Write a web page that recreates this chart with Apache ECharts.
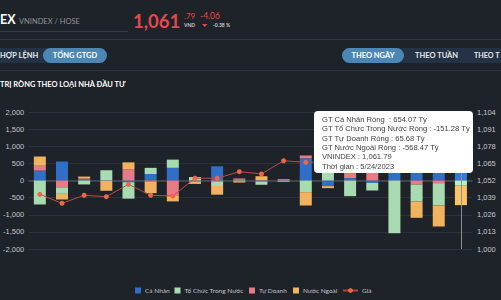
<!DOCTYPE html>
<html><head><meta charset="utf-8">
<script src="https://cdn.jsdelivr.net/npm/echarts@6/dist/echarts.min.js"></script>
<style>
html,body{margin:0;padding:0;background:#1e2229;width:501px;height:300px;overflow:hidden;}
#chart{position:absolute;left:0;top:0;width:501px;height:300px;}
</style></head><body>
<div id="chart"></div>
<script>
// ---- data ----
const dates = ['4/24/2023','4/25/2023','4/26/2023','4/27/2023','4/28/2023','5/4/2023','5/5/2023','5/8/2023','5/9/2023','5/10/2023','5/11/2023','5/12/2023','5/15/2023','5/16/2023','5/17/2023','5/18/2023','5/19/2023','5/22/2023','5/23/2023','5/24/2023'];
const caNhan    = [290, 555, 30, -10, -50, 190, 370, -20, 415, 20, -30, -15, 650, -165, 70, -68, 1000, 1089, 1343, 654.07];
const toChuc    = [-700, -190, -115, 300, -480, 180, 240, 100, -130, -25, -95, -20, -340, 223, -457, -224, -1539, -496, -652, -151.28];
const tuDoanh   = [140, -200, 30, -5, 330, -40, -430, -20, -30, 40, 15, 10, 80, 0, 130, 240, 150, -117, -78, 65.68];
const nuocNgoai = [270, -165, 55, -285, 200, -330, -180, -60, -255, -35, 110, 25, -390, -58, 257, 52, 389, -476, -613, -568.47];
const vnindex   = [1041.5, 1034.7, 1040.8, 1039.7, 1049.1, 1040.8, 1040.2, 1053.7, 1053.7, 1058.7, 1057.0, 1067.0, 1065.8, 1066.3, 1063.5, 1069.4, 1067.5, 1075.0, 1065.85, 1061.79];
const leftTicks  = {min: -2000, max: 2000, interval: 500};
const rightTicks = [1000, 1013, 1026, 1039, 1052, 1065, 1078, 1091, 1104];
const names = {cn: 'Cá Nhân', tc: 'Tổ Chức Trong Nước', td: 'Tự Doanh', nn: 'Nước Ngoài', gia: 'Giá'};
const colors = {cn: '#2f6fc8', tc: '#a8dbb0', td: '#e97b87', nn: '#f0b35f', line: '#a9473d', dot: '#ee6548'};

const fmt = v => v.toLocaleString('en-US');
const red = '#e5484d';
const F = 'Lato, "Open Sans", sans-serif';
function txt(x, y, text, size, color, weight, align) {
  return {type: 'text', silent: true, style: {x: x, y: y, text: text, fontSize: size, fontWeight: weight || 'normal', fontFamily: F, fill: color, align: align || 'left', verticalAlign: 'middle'}};
}
function rect(x, y, w, h, color, r) {
  return {type: 'rect', silent: true, shape: {x: x, y: y, width: w, height: h, r: r || 0}, style: {fill: color}};
}
function leg(name, left, w) {
  return {data: [name], left: left, top: 282, itemWidth: w, itemHeight: 6, icon: w > 10 ? undefined : 'rect',
          textStyle: {color: '#c0c4ca', fontSize: 6.5, fontFamily: F, padding: [0, 0, 0, -1]}};
}

const chart = echarts.init(document.getElementById('chart'), null, {renderer: 'svg'});
chart.setOption({
  animation: false,
  backgroundColor: 'transparent',
  textStyle: {fontFamily: '"Liberation Sans", Arial, sans-serif'},
  graphic: [
    txt(0, 19.5, 'EX', 12.5, '#ffffff', 'bold'),
    txt(19, 21.2, 'VNINDEX / HOSE', 7.5, '#8f959d'),
    rect(0, 31, 128, 1, '#363b44'),
    txt(133, 21.2, '1,061', 18.5, red, 'bold'),
    txt(184, 15.5, '.79', 8, red),
    txt(184, 25, 'VND', 5, '#c8ccd2', 'bold'),
    txt(200, 16, '-4.06', 8.5, red),
    {type: 'polygon', silent: true, shape: {points: [[202, 24], [207.5, 24], [204.75, 27]]}, style: {fill: red}},
    txt(213, 25, '-0.38 %', 5, '#c8ccd2', 'bold'),
    rect(0, 39, 501, 1, '#353a43'),
    rect(-10, 48, 117, 15, '#233244', 7.5),
    rect(43, 48, 64, 15, '#4b87b2', 7.5),
    txt(0, 55.5, 'HỢP LỆNH', 7.5, '#e6e9ed', 'bold'),
    txt(75, 55.5, 'TỔNG GTGD', 7.5, '#ffffff', 'bold', 'center'),
    rect(342, 48, 170, 15, '#233244', 7.5),
    rect(342, 48, 62, 15, '#4b87b2', 7.5),
    txt(373, 55.5, 'THEO NGÀY', 7.5, '#ffffff', 'bold', 'center'),
    txt(415, 55.5, 'THEO TUẦN', 7.5, '#e6e9ed', 'bold'),
    txt(474, 55.5, 'THEO T', 7.2, '#e6e9ed', 'bold'),
    rect(0, 70, 501, 1, '#30353d'),
    txt(0, 84.5, 'TRỊ RÒNG THEO LOẠI NHÀ ĐẦU TƯ', 7.5, '#ffffff', 'bold')
  ],
  grid: {left: 22, right: 29, top: 112, bottom: 51},
  legend: [
    leg(names.cn, 130, 6),
    leg(names.tc, 169.5, 6),
    leg(names.td, 244, 6),
    leg(names.nn, 288, 6),
    leg(names.gia, 337, 15)
  ],
  tooltip: {
    trigger: 'axis', triggerOn: 'none', alwaysShowContent: true, transitionDuration: 0, showDelay: 0,
    position: [314, 111],
    backgroundColor: '#ffffff', borderWidth: 0, padding: [4, 0, 2, 8],
    extraCssText: 'width:159px;height:62px;box-sizing:border-box;border-radius:4px;box-shadow:none;',
    textStyle: {color: '#444', fontSize: 7.6, fontFamily: '"Liberation Sans", Arial, sans-serif'},
    axisPointer: {type: 'line', lineStyle: {color: '#8a8f96', width: 1, type: 'solid'}},
    formatter: function (params) {
      const i = params[0].dataIndex;
      const lines = [
        'GT ' + names.cn + ' Ròng&nbsp;&nbsp;: ' + caNhan[i].toFixed(2) + ' Tỷ',
        'GT ' + names.tc + ' Ròng : ' + toChuc[i].toFixed(2) + ' Tỷ',
        'GT ' + names.td + ' Ròng : ' + tuDoanh[i].toFixed(2) + ' Tỷ',
        'GT ' + names.nn + ' Ròng : ' + nuocNgoai[i].toFixed(2) + ' Tỷ',
        'VNINDEX : ' + vnindex[i].toLocaleString('en-US', {minimumFractionDigits: 2, maximumFractionDigits: 2}),
        'Thời gian : ' + dates[i]
      ];
      return '<div style="line-height:9.33px;white-space:nowrap">' + lines.join('<br/>') + '</div>';
    }
  },
  xAxis: {
    type: 'category', data: dates, boundaryGap: true,
    axisLabel: {show: false}, axisTick: {show: false},
    axisLine: {lineStyle: {color: '#4a4f57', width: 1.5}}
  },
  yAxis: [
    {type: 'value', min: leftTicks.min, max: leftTicks.max, interval: leftTicks.interval,
     axisLabel: {color: '#c4c8ce', fontSize: 7.5, margin: 4.5, formatter: fmt},
     axisLine: {show: false}, axisTick: {show: false},
     splitLine: {lineStyle: {color: '#2c313a', width: 1}}},
    {type: 'value', min: rightTicks[0], max: rightTicks[rightTicks.length - 1], position: 'right',
     axisLabel: {color: '#c4c8ce', fontSize: 7.5, margin: 5, formatter: fmt, customValues: rightTicks},
     axisTick: {show: false, customValues: rightTicks}, axisLine: {show: false}, splitLine: {show: false}}
  ],
  series: [
    {name: names.cn, type: 'bar', stack: 'net', barWidth: 12, data: caNhan, itemStyle: {color: colors.cn}},
    {name: names.td, type: 'bar', stack: 'net', barWidth: 12, data: tuDoanh, itemStyle: {color: colors.td}},
    {name: names.tc, type: 'bar', stack: 'net', barWidth: 12, data: toChuc, itemStyle: {color: colors.tc}},
    {name: names.nn, type: 'bar', stack: 'net', barWidth: 12, data: nuocNgoai, itemStyle: {color: colors.nn}},
    {name: names.gia, type: 'line', yAxisIndex: 1, data: vnindex, symbol: 'circle', symbolSize: 5, showSymbol: true,
     lineStyle: {color: colors.line, width: 1}, itemStyle: {color: colors.dot}, z: 5}
  ]
});
chart.dispatchAction({type: 'showTip', seriesIndex: 0, dataIndex: dates.length - 1});
</script>
</body></html>
